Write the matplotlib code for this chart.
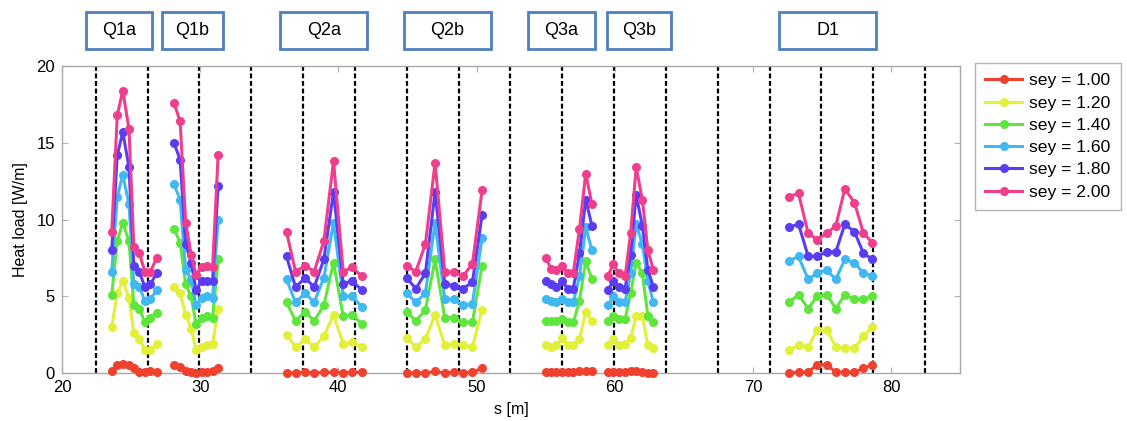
import numpy as np
import matplotlib
matplotlib.use("Agg")
import matplotlib.pyplot as plt
from matplotlib.patches import Rectangle
import matplotlib.transforms as mtransforms

plt.rcParams["font.family"] = ["Liberation Sans", "DejaVu Sans"]

# longitudinal positions [m] of the monitored points, per magnet
S_Q1A = [23.6, 24.0, 24.4, 24.85, 25.2, 25.6, 26.0, 26.4, 26.85]
S_Q1B = [28.1, 28.55, 28.95, 29.35, 29.7, 30.1, 30.5, 30.9, 31.3]
S_Q2A = [36.25, 36.9, 37.6, 38.25, 38.95, 39.65, 40.35, 41.0, 41.7]
S_Q2B = [44.95, 45.6, 46.3, 47.0, 47.7, 48.35, 49.0, 49.7, 50.4]
S_Q3A = [55.0, 55.4, 55.75, 56.2, 56.6, 57.0, 57.45, 57.9, 58.35]
S_Q3B = [59.5, 59.9, 60.3, 60.75, 61.15, 61.55, 62.0, 62.4, 62.8]
S_D1 = [72.6, 73.3, 74.0, 74.65, 75.35, 76.0, 76.65, 77.35, 78.0, 78.65]
S_GROUPS = [S_Q1A, S_Q1B, S_Q2A, S_Q2B, S_Q3A, S_Q3B, S_D1]

SEY = [1.00, 1.20, 1.40, 1.60, 1.80, 2.00]

# heat load [W/m], one row per magnet (Q1a, Q1b, Q2a, Q2b, Q3a, Q3b, D1)
HL_SEY_100 = [
    [0.1, 0.5, 0.6, 0.5, 0.3, 0.05, 0.05, 0.1, 0.05],
    [0.5, 0.4, 0.1, 0.05, 0.0, 0.05, 0.05, 0.1, 0.3],
    [0.0, 0.0, 0.05, 0.0, 0.05, 0.05, 0.0, 0.05, 0.05],
    [0.0, 0.0, 0.0, 0.1, 0.0, 0.05, 0.0, 0.05, 0.3],
    [0.05, 0.05, 0.05, 0.05, 0.05, 0.05, 0.1, 0.15, 0.1],
    [0.05, 0.05, 0.05, 0.05, 0.1, 0.15, 0.05, 0.0, 0.0],
    [0.0, 0.05, 0.05, 0.55, 0.55, 0.05, 0.05, 0.05, 0.3, 0.55],
]
HL_SEY_120 = [
    [3.0, 5.2, 6.0, 4.9, 2.6, 2.2, 1.5, 1.5, 1.9],
    [5.6, 5.2, 3.8, 2.9, 1.5, 1.7, 1.8, 1.9, 4.2],
    [2.5, 1.7, 2.2, 1.7, 2.4, 3.8, 1.9, 2.0, 1.7],
    [2.3, 1.7, 2.2, 3.8, 1.8, 1.9, 1.8, 1.7, 4.1],
    [1.8, 1.7, 1.8, 2.3, 1.8, 1.8, 2.2, 4.0, 3.4],
    [1.8, 2.2, 1.8, 1.9, 2.3, 3.7, 3.7, 1.8, 1.6],
    [1.5, 1.8, 1.7, 2.8, 2.8, 1.7, 1.6, 1.6, 2.4, 3.0],
]
HL_SEY_140 = [
    [5.1, 8.6, 9.8, 8.6, 4.4, 4.2, 3.3, 3.6, 3.9],
    [9.4, 8.5, 5.8, 5.0, 3.2, 3.6, 3.7, 3.6, 7.4],
    [4.6, 3.4, 4.0, 3.4, 4.4, 7.2, 3.7, 3.8, 3.2],
    [4.0, 3.4, 4.1, 7.4, 3.6, 3.6, 3.3, 3.3, 7.0],
    [3.4, 3.4, 3.4, 3.5, 3.3, 3.3, 4.7, 7.3, 6.1],
    [3.4, 3.7, 3.5, 3.5, 5.2, 7.2, 6.5, 3.7, 3.3],
    [4.6, 5.1, 4.2, 5.0, 5.1, 4.2, 5.1, 4.8, 4.8, 5.0],
]
HL_SEY_160 = [
    [6.6, 11.5, 12.9, 11.0, 5.8, 5.6, 4.7, 4.8, 5.4],
    [12.3, 11.3, 6.7, 6.1, 4.4, 4.9, 5.0, 4.9, 10.0],
    [6.1, 4.6, 5.2, 4.6, 6.2, 9.8, 5.0, 5.0, 4.3],
    [5.2, 4.6, 5.2, 9.8, 4.8, 4.8, 4.4, 4.5, 8.8],
    [4.8, 4.7, 4.6, 4.8, 4.6, 4.6, 6.3, 9.5, 8.0],
    [4.4, 5.0, 4.6, 4.6, 6.5, 9.7, 8.4, 6.0, 4.6],
    [7.3, 7.6, 6.1, 6.5, 6.7, 6.1, 7.4, 7.2, 6.5, 6.3],
]
HL_SEY_180 = [
    [8.0, 14.2, 15.7, 13.4, 7.0, 6.6, 5.6, 5.8, 6.5],
    [15.0, 13.9, 8.4, 7.2, 5.4, 6.0, 6.0, 6.0, 12.2],
    [7.6, 5.6, 6.2, 5.6, 7.4, 11.8, 5.8, 6.0, 5.4],
    [6.2, 5.5, 6.5, 11.8, 5.8, 5.7, 5.5, 5.9, 10.3],
    [6.0, 5.8, 5.6, 6.0, 5.5, 5.5, 7.8, 11.3, 9.6],
    [5.4, 6.0, 5.6, 5.5, 7.7, 11.6, 9.6, 6.7, 5.6],
    [9.5, 9.7, 7.6, 7.6, 7.9, 7.9, 9.7, 9.2, 7.8, 7.4],
]
HL_SEY_200 = [
    [9.2, 16.8, 18.4, 15.9, 8.2, 7.8, 6.6, 6.6, 7.5],
    [17.6, 16.4, 9.8, 7.7, 6.4, 6.9, 7.0, 6.9, 14.2],
    [9.2, 6.6, 7.0, 6.6, 8.6, 13.8, 6.6, 6.9, 6.3],
    [7.0, 6.6, 8.4, 13.7, 6.6, 6.6, 6.3, 7.1, 11.9],
    [7.5, 6.8, 6.7, 7.0, 6.5, 6.5, 9.4, 13.0, 11.0],
    [6.3, 7.1, 6.5, 6.3, 9.1, 13.4, 11.3, 8.0, 6.7],
    [11.5, 11.7, 9.1, 8.7, 9.1, 9.6, 12.0, 11.1, 9.1, 8.5],
]
HEAT_LOADS = [HL_SEY_100, HL_SEY_120, HL_SEY_140, HL_SEY_160, HL_SEY_180, HL_SEY_200]

COLORS = ["#f0412e", "#e3f03a", "#5ee63c", "#40b8f2", "#5a3df2", "#f03e8e"]

# element boundaries (dashed lines)
BOUNDARIES = [22.45, 26.2, 29.95, 33.7, 37.45, 41.2, 44.95, 48.7, 52.45,
              56.2, 59.95, 63.7, 67.45, 71.2, 74.95, 78.7, 82.45]

# magnet name tags above the plot
MAGNETS = ["Q1a", "Q1b", "Q2a", "Q2b", "Q3a", "Q3b", "D1"]
MAGNET_START = [21.75, 27.25, 35.8, 44.75, 53.7, 59.45, 71.9]
MAGNET_END = [26.5, 31.65, 42.1, 51.05, 58.55, 64.05, 78.9]


def join_groups(xs_groups, ys_groups):
    # NaN between magnets so the lines are not connected across gaps
    xs, ys = [], []
    for x, y in zip(xs_groups, ys_groups):
        xs.extend(x + [np.nan])
        ys.extend(y + [np.nan])
    return xs, ys


fig = plt.figure(figsize=(11.27, 4.21), dpi=100)
ax = fig.add_axes([0.055, 0.114, 0.797, 0.729])

for x in BOUNDARIES:
    ax.axvline(x, color="black", linewidth=1.6, dashes=(2.2, 1.2), zorder=1)

for sey, loads, color in zip(SEY, HEAT_LOADS, COLORS):
    xs, ys = join_groups(S_GROUPS, loads)
    ax.plot(xs, ys, color=color, linewidth=2.2, marker="o", markersize=5.5,
            label=f"sey = {sey:.2f}", clip_on=False, zorder=3)

ax.set_xlim(20, 85)
ax.set_ylim(0, 20)
ax.set_xticks([20, 30, 40, 50, 60, 70, 80])
ax.set_yticks([0, 5, 10, 15, 20])
ax.tick_params(direction="in", top=True, right=True, labelsize=12,
               length=4, color="#b0b0b0", pad=5)
for spine in ax.spines.values():
    spine.set_color("#a8a8a8")
    spine.set_linewidth(1.0)

ax.set_xlabel("s [m]", fontsize=11.5, labelpad=5)
ax.set_ylabel("Heat load [W/m]", fontsize=11.5, labelpad=6)

# tags: x in data units, y in axes units
trans = mtransforms.blended_transform_factory(ax.transData, ax.transAxes)
for name, x0, x1 in zip(MAGNETS, MAGNET_START, MAGNET_END):
    box = Rectangle((x0, 1.055), x1 - x0, 0.12, transform=trans,
                    facecolor="white", edgecolor="#4f7fbf", linewidth=2.0,
                    clip_on=False)
    ax.add_patch(box)
    ax.text((x0 + x1) / 2, 1.115, name, transform=trans, ha="center",
            va="center", fontsize=13)

leg = ax.legend(loc="upper left", bbox_to_anchor=(0.865, 0.851),
                bbox_transform=fig.transFigure, fontsize=12.6, frameon=True,
                fancybox=False, edgecolor="#a0a0a0", handlelength=2.1,
                borderpad=0.6, labelspacing=0.4, handletextpad=0.4,
                borderaxespad=0)
leg.get_frame().set_linewidth(1.0)

fig.savefig("out.png", dpi=100)
